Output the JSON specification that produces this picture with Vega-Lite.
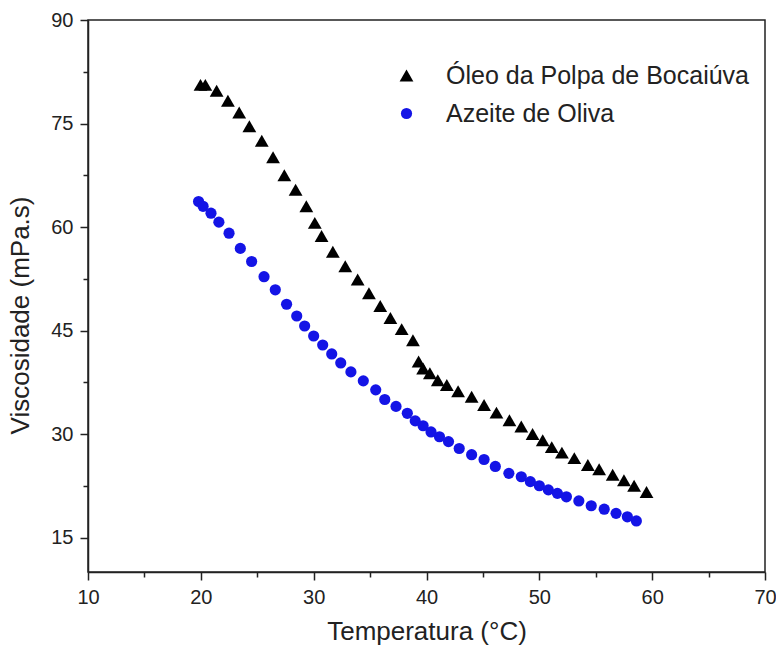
{
  "$schema": "https://vega.github.io/schema/vega-lite/v6.json",
  "width": 677,
  "height": 552,
  "autosize": {"type": "none"},
  "padding": {"left": 88, "top": 20, "right": 11, "bottom": 83},
  "background": "white",
  "config": {
    "font": "Liberation Sans",
    "view": {"stroke": "#222", "strokeWidth": 1.5},
    "axis": {"grid": false, "domainColor": "#222", "domainWidth": 1.5, "tickColor": "#222", "tickWidth": 1.5, "labelColor": "#222", "titleColor": "#222", "labelFont": "Liberation Sans", "titleFont": "Liberation Sans", "titleFontWeight": "normal", "labelFontSize": 20, "titleFontSize": 26, "labelFlush": false, "labelOverlap": false},
    "legend": {"labelLimit": 500}
  },
  "datasets": {
    "pts": [
      {"serie": "Óleo da Polpa de Bocaiúva", "t": 19.97, "v": 80.6},
      {"serie": "Óleo da Polpa de Bocaiúva", "t": 20.4, "v": 80.6},
      {"serie": "Óleo da Polpa de Bocaiúva", "t": 21.4, "v": 79.75},
      {"serie": "Óleo da Polpa de Bocaiúva", "t": 22.4, "v": 78.3},
      {"serie": "Óleo da Polpa de Bocaiúva", "t": 23.4, "v": 76.6},
      {"serie": "Óleo da Polpa de Bocaiúva", "t": 24.3, "v": 74.6},
      {"serie": "Óleo da Polpa de Bocaiúva", "t": 25.4, "v": 72.5},
      {"serie": "Óleo da Polpa de Bocaiúva", "t": 26.4, "v": 70.1},
      {"serie": "Óleo da Polpa de Bocaiúva", "t": 27.4, "v": 67.5},
      {"serie": "Óleo da Polpa de Bocaiúva", "t": 28.4, "v": 65.4},
      {"serie": "Óleo da Polpa de Bocaiúva", "t": 29.35, "v": 63.0},
      {"serie": "Óleo da Polpa de Bocaiúva", "t": 30.1, "v": 60.6},
      {"serie": "Óleo da Polpa de Bocaiúva", "t": 30.7, "v": 58.7},
      {"serie": "Óleo da Polpa de Bocaiúva", "t": 31.7, "v": 56.4},
      {"serie": "Óleo da Polpa de Bocaiúva", "t": 32.8, "v": 54.3},
      {"serie": "Óleo da Polpa de Bocaiúva", "t": 33.9, "v": 52.4},
      {"serie": "Óleo da Polpa de Bocaiúva", "t": 34.9, "v": 50.4},
      {"serie": "Óleo da Polpa de Bocaiúva", "t": 35.9, "v": 48.55},
      {"serie": "Óleo da Polpa de Bocaiúva", "t": 36.8, "v": 46.8},
      {"serie": "Óleo da Polpa de Bocaiúva", "t": 37.8, "v": 45.2},
      {"serie": "Óleo da Polpa de Bocaiúva", "t": 38.8, "v": 43.6},
      {"serie": "Óleo da Polpa de Bocaiúva", "t": 39.3, "v": 40.5},
      {"serie": "Óleo da Polpa de Bocaiúva", "t": 39.7, "v": 39.5},
      {"serie": "Óleo da Polpa de Bocaiúva", "t": 40.3, "v": 38.8},
      {"serie": "Óleo da Polpa de Bocaiúva", "t": 41.0, "v": 37.8},
      {"serie": "Óleo da Polpa de Bocaiúva", "t": 41.8, "v": 37.1},
      {"serie": "Óleo da Polpa de Bocaiúva", "t": 42.8, "v": 36.2},
      {"serie": "Óleo da Polpa de Bocaiúva", "t": 44.0, "v": 35.4},
      {"serie": "Óleo da Polpa de Bocaiúva", "t": 45.1, "v": 34.2},
      {"serie": "Óleo da Polpa de Bocaiúva", "t": 46.2, "v": 33.1},
      {"serie": "Óleo da Polpa de Bocaiúva", "t": 47.35, "v": 32.0},
      {"serie": "Óleo da Polpa de Bocaiúva", "t": 48.4, "v": 31.1},
      {"serie": "Óleo da Polpa de Bocaiúva", "t": 49.4, "v": 30.0},
      {"serie": "Óleo da Polpa de Bocaiúva", "t": 50.3, "v": 29.1},
      {"serie": "Óleo da Polpa de Bocaiúva", "t": 51.1, "v": 28.1},
      {"serie": "Óleo da Polpa de Bocaiúva", "t": 52.0, "v": 27.3},
      {"serie": "Óleo da Polpa de Bocaiúva", "t": 53.1, "v": 26.5},
      {"serie": "Óleo da Polpa de Bocaiúva", "t": 54.3, "v": 25.5},
      {"serie": "Óleo da Polpa de Bocaiúva", "t": 55.3, "v": 24.9},
      {"serie": "Óleo da Polpa de Bocaiúva", "t": 56.5, "v": 24.1},
      {"serie": "Óleo da Polpa de Bocaiúva", "t": 57.5, "v": 23.3},
      {"serie": "Óleo da Polpa de Bocaiúva", "t": 58.4, "v": 22.5},
      {"serie": "Óleo da Polpa de Bocaiúva", "t": 59.5, "v": 21.6},
      {"serie": "Azeite de Oliva", "t": 19.8, "v": 63.7},
      {"serie": "Azeite de Oliva", "t": 20.2, "v": 63.0},
      {"serie": "Azeite de Oliva", "t": 20.9, "v": 62.0},
      {"serie": "Azeite de Oliva", "t": 21.6, "v": 60.7},
      {"serie": "Azeite de Oliva", "t": 22.5, "v": 59.1},
      {"serie": "Azeite de Oliva", "t": 23.5, "v": 56.9},
      {"serie": "Azeite de Oliva", "t": 24.5, "v": 55.0},
      {"serie": "Azeite de Oliva", "t": 25.6, "v": 52.8},
      {"serie": "Azeite de Oliva", "t": 26.6, "v": 50.9},
      {"serie": "Azeite de Oliva", "t": 27.6, "v": 48.8},
      {"serie": "Azeite de Oliva", "t": 28.5, "v": 47.1},
      {"serie": "Azeite de Oliva", "t": 29.2, "v": 45.65},
      {"serie": "Azeite de Oliva", "t": 30.0, "v": 44.2},
      {"serie": "Azeite de Oliva", "t": 30.8, "v": 42.9},
      {"serie": "Azeite de Oliva", "t": 31.6, "v": 41.6},
      {"serie": "Azeite de Oliva", "t": 32.4, "v": 40.3},
      {"serie": "Azeite de Oliva", "t": 33.3, "v": 39.0},
      {"serie": "Azeite de Oliva", "t": 34.4, "v": 37.7},
      {"serie": "Azeite de Oliva", "t": 35.5, "v": 36.4},
      {"serie": "Azeite de Oliva", "t": 36.3, "v": 35.0},
      {"serie": "Azeite de Oliva", "t": 37.3, "v": 34.0},
      {"serie": "Azeite de Oliva", "t": 38.3, "v": 33.0},
      {"serie": "Azeite de Oliva", "t": 39.0, "v": 31.9},
      {"serie": "Azeite de Oliva", "t": 39.7, "v": 31.2},
      {"serie": "Azeite de Oliva", "t": 40.4, "v": 30.3},
      {"serie": "Azeite de Oliva", "t": 41.15, "v": 29.6},
      {"serie": "Azeite de Oliva", "t": 41.95, "v": 28.9},
      {"serie": "Azeite de Oliva", "t": 42.9, "v": 27.9},
      {"serie": "Azeite de Oliva", "t": 44.0, "v": 27.0},
      {"serie": "Azeite de Oliva", "t": 45.1, "v": 26.3},
      {"serie": "Azeite de Oliva", "t": 46.1, "v": 25.3},
      {"serie": "Azeite de Oliva", "t": 47.3, "v": 24.3},
      {"serie": "Azeite de Oliva", "t": 48.4, "v": 23.8},
      {"serie": "Azeite de Oliva", "t": 49.2, "v": 23.1},
      {"serie": "Azeite de Oliva", "t": 50.0, "v": 22.5},
      {"serie": "Azeite de Oliva", "t": 50.8, "v": 21.9},
      {"serie": "Azeite de Oliva", "t": 51.6, "v": 21.4},
      {"serie": "Azeite de Oliva", "t": 52.4, "v": 20.9},
      {"serie": "Azeite de Oliva", "t": 53.5, "v": 20.3},
      {"serie": "Azeite de Oliva", "t": 54.6, "v": 19.6},
      {"serie": "Azeite de Oliva", "t": 55.75, "v": 19.1},
      {"serie": "Azeite de Oliva", "t": 56.8, "v": 18.5},
      {"serie": "Azeite de Oliva", "t": 57.8, "v": 18.0},
      {"serie": "Azeite de Oliva", "t": 58.6, "v": 17.4}
    ]
  },
  "data": {"name": "pts"},
  "layer": [
    {
      "mark": {"type": "point", "filled": true, "opacity": 1},
      "encoding": {
        "x": {"field": "t", "type": "quantitative", "scale": {"domain": [10, 70], "nice": false, "zero": false},
          "axis": {"values": [10, 20, 30, 40, 50, 60, 70], "tickSize": 8, "labelPadding": 7, "title": "Temperatura (°C)", "titlePadding": 11}},
        "y": {"field": "v", "type": "quantitative", "scale": {"domain": [10, 90], "nice": false, "zero": false},
          "axis": {"values": [15, 30, 45, 60, 75, 90], "tickSize": 8, "labelPadding": 7, "title": "Viscosidade (mPa.s)", "titlePadding": 17, "titleY": 295}},
        "shape": {"field": "serie", "type": "nominal",
          "scale": {"domain": ["Óleo da Polpa de Bocaiúva", "Azeite de Oliva"], "range": ["triangle-up", "circle"]},
          "legend": {"title": null, "orient": "none", "legendX": 306, "legendY": 43, "labelFontSize": 25, "labelColor": "#222", "symbolSize": 190, "rowPadding": 12, "labelOffset": 27, "labelLimit": 500}},
        "color": {"field": "serie", "type": "nominal",
          "scale": {"domain": ["Óleo da Polpa de Bocaiúva", "Azeite de Oliva"], "range": ["#000000", "#1414e6"]},
          "legend": {"title": null, "orient": "none", "legendX": 306, "legendY": 43, "labelFontSize": 25, "labelColor": "#222", "symbolSize": 190, "rowPadding": 12, "labelOffset": 27, "labelLimit": 500}},
        "size": {"field": "serie", "type": "nominal",
          "scale": {"domain": ["Óleo da Polpa de Bocaiúva", "Azeite de Oliva"], "range": [190, 125]},
          "legend": null}
      }
    },
    {
      "mark": {"type": "rule", "opacity": 0},
      "encoding": {
        "x": {"datum": 15, "type": "quantitative", "axis": {"orient": "bottom", "values": [15, 25, 35, 45, 55, 65], "labels": false, "domain": false, "tickSize": 5, "title": null}},
        "y": {"datum": 82.5, "type": "quantitative", "axis": {"orient": "left", "values": [22.5, 37.5, 52.5, 67.5, 82.5], "labels": false, "domain": false, "tickSize": 5, "title": null}}
      }
    }
  ],
  "resolve": {"axis": {"x": "independent", "y": "independent"}}
}
